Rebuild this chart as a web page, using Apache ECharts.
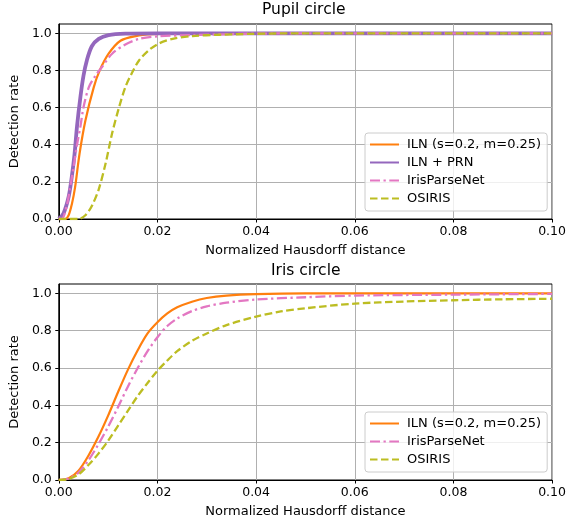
<!DOCTYPE html>
<html>
<head>
<meta charset="utf-8">
<script src="https://cdn.jsdelivr.net/npm/echarts@6/dist/echarts.min.js"></script>
<style>
html,body{margin:0;padding:0;background:#fff;}
#c{width:569px;height:520px;}
</style>
</head>
<body>
<div id="c"></div>
<script>
// ---------- data ----------
const titles = ['Pupil circle', 'Iris circle'];
const xAxisName = 'Normalized Hausdorff distance';
const yAxisName = 'Detection rate';
const xTicks = [0, 0.02, 0.04, 0.06, 0.08, 0.10];
const yTicks = [0, 0.2, 0.4, 0.6, 0.8, 1.0];

// Pupil circle
const pupilILN_x = [0, 0.0013, 0.002, 0.00265, 0.0033, 0.0042, 0.0054, 0.0071, 0.0083, 0.0101, 0.0125, 0.0156, 0.019, 0.025, 0.1];
const pupilILN_y = [0, 0, 0.02, 0.08, 0.17, 0.35, 0.53, 0.71, 0.80, 0.89, 0.96, 0.985, 0.995, 1.0, 1.0];
const pupilPRN_x = [0, 0.00095, 0.002, 0.00265, 0.0032, 0.0037, 0.0044, 0.005, 0.0057, 0.0067, 0.0081, 0.0101, 0.0135, 0.02, 0.1];
const pupilPRN_y = [0, 0.03, 0.12, 0.23, 0.35, 0.50, 0.66, 0.77, 0.855, 0.93, 0.97, 0.99, 0.998, 1.0, 1.0];
const pupilIPN_x = [0, 0.0006, 0.0016, 0.0023, 0.003, 0.0037, 0.0044, 0.005, 0.0061, 0.0074, 0.0088, 0.0108, 0.0135, 0.0163, 0.0203, 0.0271, 0.0394, 0.06, 0.1];
const pupilIPN_y = [0, 0, 0.07, 0.17, 0.28, 0.40, 0.50, 0.60, 0.71, 0.77, 0.82, 0.89, 0.94, 0.97, 0.984, 0.99, 0.998, 1.0, 1.0];
const pupilOSI_x = [0, 0.004, 0.0054, 0.0067, 0.0081, 0.0095, 0.0108, 0.0122, 0.0135, 0.0149, 0.0163, 0.0183, 0.0203, 0.0231, 0.0271, 0.0326, 0.0394, 0.05, 0.1];
const pupilOSI_y = [0, 0, 0.02, 0.07, 0.16, 0.30, 0.46, 0.60, 0.71, 0.79, 0.855, 0.91, 0.945, 0.97, 0.985, 0.992, 0.997, 1.0, 1.0];

// Iris circle
const irisILN_x = [0, 0.002, 0.004, 0.006, 0.008, 0.010, 0.012, 0.014, 0.016, 0.018, 0.020, 0.022, 0.024, 0.027, 0.030, 0.034, 0.040, 0.05, 0.1];
const irisILN_y = [0, 0.01, 0.05, 0.13, 0.23, 0.345, 0.47, 0.59, 0.695, 0.785, 0.845, 0.892, 0.925, 0.955, 0.975, 0.988, 0.996, 1.0, 1.0];
const irisIPN_x = [0, 0.002, 0.004, 0.006, 0.008, 0.010, 0.012, 0.014, 0.016, 0.018, 0.020, 0.022, 0.024, 0.027, 0.030, 0.034, 0.040, 0.05, 0.06, 0.08, 0.1];
const irisIPN_y = [0, 0.008, 0.04, 0.105, 0.19, 0.285, 0.39, 0.50, 0.60, 0.69, 0.765, 0.825, 0.865, 0.905, 0.93, 0.95, 0.967, 0.979, 0.988, 0.993, 0.997];
const irisOSI_x = [0, 0.002, 0.004, 0.006, 0.008, 0.010, 0.012, 0.014, 0.016, 0.018, 0.020, 0.022, 0.024, 0.027, 0.030, 0.034, 0.040, 0.045, 0.05, 0.06, 0.07, 0.08, 0.09, 0.1];
const irisOSI_y = [0, 0.005, 0.03, 0.08, 0.14, 0.21, 0.29, 0.37, 0.45, 0.52, 0.585, 0.64, 0.69, 0.745, 0.785, 0.83, 0.875, 0.903, 0.92, 0.945, 0.956, 0.963, 0.968, 0.971];

const names = ['ILN (s=0.2, m=0.25)', 'ILN + PRN', 'IrisParseNet', 'OSIRIS'];
const colors = ['#ff7f0e', '#9467bd', '#e377c2', '#bcbd22'];

// ---------- chart ----------
const zip = (xs, ys) => xs.map((x, i) => [x, ys[i]]);
const FONT = 'DejaVu Sans';
const styles = [
  {width: 2.2, type: 'solid'},
  {width: 3.8, type: 'solid'},
  {width: 2.3, type: [10, 3.5, 2.3, 3.5]},
  {width: 2.3, type: [7.5, 3.5]}
];
function mkSeries(nameIdx, gridIdx, xs, ys) {
  return {
    type: 'line', name: names[nameIdx], xAxisIndex: gridIdx, yAxisIndex: gridIdx,
    data: zip(xs, ys), showSymbol: false, symbol: 'none',
    smooth: 0.3,
    lineStyle: {color: colors[nameIdx], width: styles[nameIdx].width, type: styles[nameIdx].type, cap: 'butt', join: 'round'},
    itemStyle: {color: colors[nameIdx]},
    emphasis: {disabled: true}, animation: false
  };
}
const grids = [
  {left: 57.5, right: 16, top: 24, height: 195},
  {left: 57.5, right: 16, top: 284, height: 196}
];
function mkX(i) {
  return {
    type: 'value', gridIndex: i, min: 0, max: 0.1, interval: 0.02,
    name: xAxisName, nameLocation: 'middle', nameGap: 25,
    nameTextStyle: {fontFamily: FONT, fontSize: 13, color: '#000'},
    axisLine: {show: true, onZero: false, lineStyle: {color: '#000', width: 1}},
    axisTick: {show: true, length: 3.5, lineStyle: {color: '#000', width: 1}},
    axisLabel: {margin: 6, fontFamily: FONT, fontSize: 12.5, color: '#000', formatter: v => v.toFixed(2)},
    splitLine: {show: true, lineStyle: {color: '#b0b0b0', width: 1}}
  };
}
function mkY(i) {
  return {
    type: 'value', gridIndex: i, min: 0, max: 1.05, interval: 0.2,
    name: yAxisName, nameLocation: 'middle', nameGap: 37,
    nameTextStyle: {fontFamily: FONT, fontSize: 13, color: '#000'},
    axisLine: {show: true, lineStyle: {color: '#000', width: 1}},
    axisTick: {show: true, length: 3.5, customValues: yTicks, lineStyle: {color: '#000', width: 1}},
    axisLabel: {margin: 7, fontFamily: FONT, fontSize: 12.5, color: '#000', customValues: yTicks, formatter: v => v.toFixed(1)},
    splitLine: {show: true, lineStyle: {color: '#b0b0b0', width: 1}}
  };
}
function mkLegend(top, dataNames) {
  return {
    orient: 'vertical', left: 365, top: top, data: dataNames,
    itemWidth: 29, itemHeight: 14, itemGap: 5,
    padding: [5, 6, 6, 4],
    backgroundColor: 'rgba(255,255,255,0.8)', borderColor: '#cccccc', borderWidth: 1, borderRadius: 3,
    textStyle: {fontFamily: FONT, fontSize: 13, color: '#000', padding: [0, 0, 0, 3]},
    itemStyle: {opacity: 0},
    selectedMode: false
  };
}
const chart = echarts.init(document.getElementById('c'), null, {renderer: 'canvas'});
chart.setOption({
  backgroundColor: '#fff',
  animation: false,
  grid: grids.map(g => Object.assign({show: true, borderColor: '#000', borderWidth: 1, backgroundColor: 'transparent'}, g)),
  xAxis: [mkX(0), mkX(1)],
  yAxis: [mkY(0), mkY(1)],
  legend: [mkLegend(133, names), mkLegend(412, [names[0], names[2], names[3]])],
  graphic: [
    {type: 'text', left: 305 - 43, top: 2, style: {text: titles[0], font: '15.5px "DejaVu Sans"', fill: '#000'}},
    {type: 'text', left: 305 - 34, top: 263, style: {text: titles[1], font: '15.5px "DejaVu Sans"', fill: '#000'}}
  ],
  series: [
    mkSeries(0, 0, pupilILN_x, pupilILN_y),
    mkSeries(1, 0, pupilPRN_x, pupilPRN_y),
    mkSeries(2, 0, pupilIPN_x, pupilIPN_y),
    mkSeries(3, 0, pupilOSI_x, pupilOSI_y),
    mkSeries(0, 1, irisILN_x, irisILN_y),
    mkSeries(2, 1, irisIPN_x, irisIPN_y),
    mkSeries(3, 1, irisOSI_x, irisOSI_y)
  ]
});
</script>
</body>
</html>
